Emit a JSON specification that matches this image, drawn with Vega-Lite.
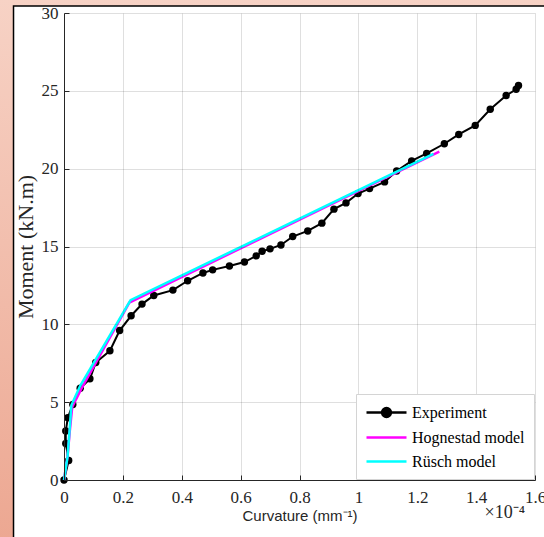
{
  "$schema": "https://vega.github.io/schema/vega-lite/v6.json",
  "width": 471,
  "height": 467,
  "autosize": {"type": "none"},
  "padding": {"left": 64, "top": 13, "right": 9, "bottom": 57},
  "background": "#f2bfae",
  "config": {
    "view": {"stroke": null},
    "axis": {
      "grid": true,
      "gridColor": "#262626",
      "gridOpacity": 0.15,
      "gridWidth": 1,
      "domainColor": "#262626",
      "domainWidth": 1,
      "tickColor": "#262626",
      "tickSize": -5,
      "labelFont": "Liberation Serif",
      "labelFontSize": 17,
      "labelColor": "#262626",
      "labelFlush": false,
      "labelOverlap": false,
      "labelBound": false,
      "titleColor": "#262626",
      "titleFontWeight": "normal"
    }
  },
  "datasets": {
    "one": [{}],
    "exp": [
      {"c": 0, "m": 0, "series": "Experiment"},
      {"c": 0.016, "m": 1.25, "series": "Experiment"},
      {"c": 0.006, "m": 2.35, "series": "Experiment"},
      {"c": 0.006, "m": 3.15, "series": "Experiment"},
      {"c": 0.013, "m": 4.0, "series": "Experiment"},
      {"c": 0.03, "m": 4.85, "series": "Experiment"},
      {"c": 0.055, "m": 5.9, "series": "Experiment"},
      {"c": 0.088, "m": 6.5, "series": "Experiment"},
      {"c": 0.108, "m": 7.55, "series": "Experiment"},
      {"c": 0.156, "m": 8.3, "series": "Experiment"},
      {"c": 0.189, "m": 9.6, "series": "Experiment"},
      {"c": 0.228, "m": 10.55, "series": "Experiment"},
      {"c": 0.265, "m": 11.3, "series": "Experiment"},
      {"c": 0.305, "m": 11.85, "series": "Experiment"},
      {"c": 0.37, "m": 12.2, "series": "Experiment"},
      {"c": 0.42, "m": 12.8, "series": "Experiment"},
      {"c": 0.472, "m": 13.3, "series": "Experiment"},
      {"c": 0.505, "m": 13.5, "series": "Experiment"},
      {"c": 0.562, "m": 13.75, "series": "Experiment"},
      {"c": 0.613, "m": 14.0, "series": "Experiment"},
      {"c": 0.653, "m": 14.4, "series": "Experiment"},
      {"c": 0.673, "m": 14.7, "series": "Experiment"},
      {"c": 0.7, "m": 14.85, "series": "Experiment"},
      {"c": 0.737, "m": 15.1, "series": "Experiment"},
      {"c": 0.777, "m": 15.64, "series": "Experiment"},
      {"c": 0.828, "m": 16.0, "series": "Experiment"},
      {"c": 0.876, "m": 16.5, "series": "Experiment"},
      {"c": 0.917, "m": 17.4, "series": "Experiment"},
      {"c": 0.958, "m": 17.8, "series": "Experiment"},
      {"c": 0.999, "m": 18.4, "series": "Experiment"},
      {"c": 1.038, "m": 18.72, "series": "Experiment"},
      {"c": 1.089, "m": 19.15, "series": "Experiment"},
      {"c": 1.13, "m": 19.85, "series": "Experiment"},
      {"c": 1.181, "m": 20.5, "series": "Experiment"},
      {"c": 1.232, "m": 20.98, "series": "Experiment"},
      {"c": 1.292, "m": 21.6, "series": "Experiment"},
      {"c": 1.341, "m": 22.2, "series": "Experiment"},
      {"c": 1.397, "m": 22.78, "series": "Experiment"},
      {"c": 1.448, "m": 23.82, "series": "Experiment"},
      {"c": 1.502, "m": 24.7, "series": "Experiment"},
      {"c": 1.536, "m": 25.1, "series": "Experiment"},
      {"c": 1.544, "m": 25.35, "series": "Experiment"}
    ],
    "hog": [
      {"c": 0, "m": 0, "series": "Hognestad model"},
      {"c": 0.012, "m": 1.5, "series": "Hognestad model"},
      {"c": 0.02, "m": 3.2, "series": "Hognestad model"},
      {"c": 0.028, "m": 4.7, "series": "Hognestad model"},
      {"c": 0.06, "m": 5.9, "series": "Hognestad model"},
      {"c": 0.222, "m": 11.4, "series": "Hognestad model"},
      {"c": 1.275, "m": 21.1, "series": "Hognestad model"}
    ],
    "rus": [
      {"c": 0, "m": 0, "series": "Rüsch model"},
      {"c": 0.012, "m": 1.5, "series": "Rüsch model"},
      {"c": 0.019, "m": 3.2, "series": "Rüsch model"},
      {"c": 0.025, "m": 4.8, "series": "Rüsch model"},
      {"c": 0.055, "m": 6.05, "series": "Rüsch model"},
      {"c": 0.226, "m": 11.55, "series": "Rüsch model"},
      {"c": 1.255, "m": 20.95, "series": "Rüsch model"}
    ]
  },
  "layer": [
    {
      "data": {"name": "one"},
      "mark": {"type": "rect", "clip": false,
        "fill": {"gradient": "linear", "x1": 0, "y1": 0, "x2": 0, "y2": 1,
          "stops": [{"offset": 0, "color": "#f7d3c6"}, {"offset": 1, "color": "#eca690"}]}},
      "encoding": {
        "x": {"datum": -0.3, "type": "quantitative", "scale": {"domain": [0, 1.6], "nice": false}},
        "x2": {"datum": 1.8},
        "y": {"datum": -5, "type": "quantitative", "scale": {"domain": [0, 30], "nice": false}},
        "y2": {"datum": 31.5}
      }
    },
    {
      "data": {"name": "one"},
      "mark": {"type": "rect", "clip": false, "fill": "white", "stroke": "black", "strokeWidth": 1.5},
      "encoding": {
        "x": {"datum": -0.1715, "type": "quantitative", "scale": {"domain": [0, 1.6], "nice": false}},
        "x2": {"datum": 1.8},
        "y": {"datum": -5, "type": "quantitative", "scale": {"domain": [0, 30], "nice": false}},
        "y2": {"datum": 30.45}
      }
    },
    {
      "data": {"name": "exp"},
      "mark": {"type": "line", "strokeWidth": 2, "point": {"filled": true, "size": 55}},
      "encoding": {
        "x": {"field": "c", "type": "quantitative", "scale": {"domain": [0, 1.6], "nice": false},
          "axis": {"zindex": 1, "values": [0, 0.2, 0.4, 0.6, 0.8, 1, 1.2, 1.4, 1.6], "format": "~g", "labelPadding": 14,
            "title": "Curvature (mm⁻¹)", "titleFont": "Liberation Sans", "titleFontSize": 15, "titlePadding": 3}},
        "y": {"field": "m", "type": "quantitative", "scale": {"domain": [0, 30], "nice": false},
          "axis": {"zindex": 1, "values": [0, 5, 10, 15, 20, 25, 30], "labelPadding": 11,
            "title": "Moment (kN.m)", "titleFont": "Liberation Serif", "titleFontSize": 22, "titlePadding": 4}},
        "color": {"field": "series", "type": "nominal",
          "scale": {"domain": ["Experiment", "Hognestad model", "Rüsch model"], "range": ["#000000", "#ff00ff", "#00ffff"]},
          "legend": {
            "title": null, "orient": "bottom-right", "offset": 1, "zindex": 2,
            "fillColor": "white", "strokeColor": "#d4d4d4", "padding": 9,
            "symbolType": "M-1,0H4", "symbolSize": 256, "symbolStrokeWidth": 2.5,
            "labelFont": "Liberation Serif", "labelFontSize": 16, "labelColor": "#000000",
            "labelOffset": 28, "rowPadding": 6,
            "encode": {"symbols": {"update": {
              "shape": {"signal": "datum.value === 'Experiment' ? 'M-1,0H4M0.95,0A0.55,0.55,0,1,0,2.05,0A0.55,0.55,0,1,0,0.95,0' : 'M-1,0H4'"},
              "fill": {"signal": "datum.value === 'Experiment' ? '#000000' : 'transparent'"}
            }}}
          }},
        "order": {"value": null}
      }
    },
    {
      "data": {"name": "hog"},
      "mark": {"type": "line", "strokeWidth": 2.5},
      "encoding": {
        "x": {"field": "c", "type": "quantitative", "scale": {"domain": [0, 1.6], "nice": false}},
        "y": {"field": "m", "type": "quantitative", "scale": {"domain": [0, 30], "nice": false}},
        "color": {"field": "series", "type": "nominal"},
        "order": {"value": null}
      }
    },
    {
      "data": {"name": "rus"},
      "mark": {"type": "line", "strokeWidth": 2.5},
      "encoding": {
        "x": {"field": "c", "type": "quantitative", "scale": {"domain": [0, 1.6], "nice": false}},
        "y": {"field": "m", "type": "quantitative", "scale": {"domain": [0, 30], "nice": false}},
        "color": {"field": "series", "type": "nominal"},
        "order": {"value": null}
      }
    },
    {
      "data": {"name": "one"},
      "mark": {"type": "text", "clip": false, "text": "×10⁻⁴", "font": "Liberation Serif", "fontSize": 18,
        "align": "right", "baseline": "middle", "color": "#262626", "dx": -10},
      "encoding": {
        "x": {"datum": 1.6, "type": "quantitative", "scale": {"domain": [0, 1.6], "nice": false}},
        "y": {"datum": -2.1, "type": "quantitative", "scale": {"domain": [0, 30], "nice": false}}
      }
    }
  ]
}
